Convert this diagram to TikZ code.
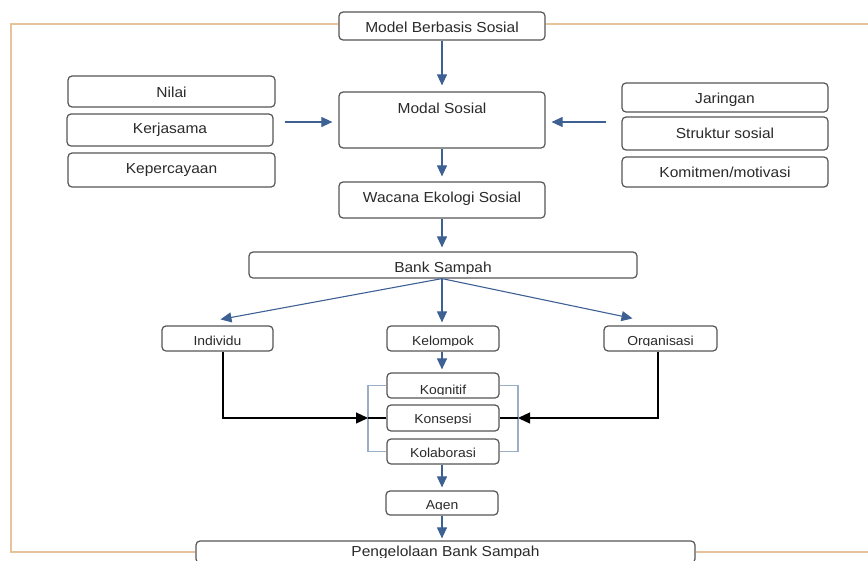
\documentclass[tikz,border=0pt]{standalone}
\usepackage{fontspec}
\setmainfont{Liberation Sans}[FakeStretch=1.07]
\usetikzlibrary{arrows.meta}
\definecolor{boxgray}{HTML}{555555}
\definecolor{arrowblue}{HTML}{3E6194}
\definecolor{bracketblue}{HTML}{9AAEC6}
\definecolor{frameorange}{HTML}{E6C39B}
\definecolor{txtgray}{HTML}{2A2A2A}
\newcommand\mkbox[5]{\node[box, minimum width={(#4-#2)*1pt}, minimum height={(#5-#3)*1pt}] (#1) at ({(#2+#4)/2},{(#3+#5)/2}) {};}
\newcommand\bigtxt[4]{\node[txtnode, font=\fontsize{14.5}{17}\selectfont] (#1) at (#2,#3) {#4};}
\newcommand\smalltxt[4]{\node[txtnode, font=\fontsize{13}{15}\selectfont] (#1) at (#2,#3) {#4};}
\begin{document}
\begin{tikzpicture}[x=1pt,y=-1pt,
  box/.style={draw=boxgray, line width=1.2pt, rounded corners=4pt, inner sep=0pt, fill=white},
  txtnode/.style={anchor=base, inner sep=0pt, text=txtgray},
  barrow/.style={draw=arrowblue, line width=1.1pt, -{Triangle[length=11pt,width=10pt]}},
  karrow/.style={draw=black, line width=1.3pt, -{Triangle[length=12pt,width=11pt]}},
  kline/.style={draw=black, line width=1.3pt},
  bracket/.style={draw=bracketblue, line width=1.2pt},
  frame/.style={draw=frameorange, line width=1.4pt}]
\useasboundingbox (0,0) rectangle (868,560);

% boxes
\mkbox{model}{339}{12}{545}{40}
\mkbox{modal}{339}{92}{545}{148}
\mkbox{wacana}{339}{182}{545}{218}
\mkbox{nilai}{68}{76}{275}{107}
\mkbox{kerja}{67}{114}{273}{146}
\mkbox{keper}{68}{153}{275}{187}
\mkbox{jar}{622}{83}{828}{112}
\mkbox{struk}{622}{117}{828}{150}
\mkbox{komit}{622}{157}{828}{187}
\mkbox{bank}{249}{252}{637}{278}
\mkbox{indiv}{162}{326}{273}{351}
\mkbox{kelom}{387}{326}{499}{351}
\mkbox{organ}{604}{326}{717}{351}
\mkbox{kogn}{387}{373}{499}{398}
\mkbox{kons}{387}{405}{499}{431}
\mkbox{kolab}{387}{439}{499}{464}
\mkbox{agen}{386}{491}{498}{515}
\mkbox{pengel}{196}{541}{695}{563}

% texts
\bigtxt{t-model}{442}{32}{Model Berbasis Sosial}
\bigtxt{t-modal}{442}{113}{Modal Sosial}
\bigtxt{t-wacana}{442}{202}{Wacana Ekologi Sosial}
\bigtxt{t-nilai}{171.5}{97}{Nilai}
\bigtxt{t-kerja}{170}{133}{Kerjasama}
\bigtxt{t-keper}{171.5}{173}{Kepercayaan}
\bigtxt{t-jar}{725}{103}{Jaringan}
\bigtxt{t-struk}{725}{138}{Struktur sosial}
\bigtxt{t-komit}{725}{177}{Komitmen/motivasi}
\begin{scope}\clip (249,252) rectangle (637,273.2);
\bigtxt{t-bank}{443}{272}{Bank Sampah}
\end{scope}
\begin{scope}\clip (162,326) rectangle (273,345.8);
\smalltxt{t-indiv}{217.5}{345}{Individu}
\end{scope}
\begin{scope}\clip (387,326) rectangle (499,345.8);
\smalltxt{t-kelom}{443}{345}{Kelompok}
\end{scope}
\begin{scope}\clip (604,326) rectangle (717,345.8);
\smalltxt{t-organ}{660.5}{345}{Organisasi}
\end{scope}
\begin{scope}\clip (387,373) rectangle (499,394.8);
\smalltxt{t-kogn}{443}{394}{Kognitif}
\end{scope}
\begin{scope}\clip (387,405) rectangle (499,423.8);
\smalltxt{t-kons}{443}{423}{Konsepsi}
\end{scope}
\smalltxt{t-kolab}{443}{457}{Kolaborasi}
\begin{scope}\clip (386,491) rectangle (498,509.8);
\smalltxt{t-agen}{442}{509}{Agen}
\end{scope}
\begin{scope}\clip (196,541) rectangle (695,557.3);
\bigtxt{t-pengel}{445.5}{556.5}{Pengelolaan Bank Sampah}
\end{scope}

% frame
\coordinate (frTR) at (868,24);
\coordinate (frBR) at (868,552);
\draw[frame] ([yshift=2pt]model.west) -| (11,552) -- (pengel.west);
\draw[frame] ([yshift=2pt]model.east) -- (frTR);
\draw[frame] (pengel.east) -- (frBR);

% blue arrows
\draw[barrow, shorten >=6pt] (model.south) -- (modal.north);
\draw[barrow, shorten >=5pt] (modal.south) -- (wacana.north);
\draw[barrow, shorten >=4pt] (wacana.south) -- (wacana.south |- bank.north);
\draw[barrow, shorten <=11pt, shorten >=6pt] ([yshift=-2pt]kerja.east |- modal.west) -- ([yshift=-2pt]modal.west);
\draw[barrow, shorten <=15pt, shorten >=6pt] ([yshift=-2pt]jar.west |- modal.east) -- ([yshift=-2pt]modal.east);
\draw[barrow] ([xshift=-1pt]bank.south) -- ([xshift=3pt,yshift=6pt]indiv.north);
\draw[barrow, shorten >=3pt] ([xshift=-1pt]bank.south) -- ([xshift=-1pt]kelom.north);
\draw[barrow] ([xshift=-1pt]bank.south) -- ([xshift=-28pt,yshift=7pt]organ.north);
\draw[barrow, shorten >=3pt] ([xshift=-1pt]kelom.south) -- ([xshift=-1pt]kogn.north);
\draw[barrow, shorten >=3pt] (agen.north |- kolab.south) -- (agen.north);
\draw[barrow, shorten >=2pt] (agen.south) -- (agen.south |- pengel.north);

% brackets
\coordinate (bL) at (368,418);
\coordinate (bR) at (518,418);
\draw[bracket] (kogn.west) -- (kogn.west -| bL) -- (kolab.west -| bL) -- (kolab.west);
\draw[bracket] (kogn.east) -- (kogn.east -| bR) -- (kolab.east -| bR) -- (kolab.east);

% black arrows
\draw[karrow] ([xshift=5.5pt]indiv.south) |- (bL);
\draw[kline] (bL) -- (kons.west);
\draw[karrow] ([xshift=-2.5pt]organ.south) |- (bR);
\draw[kline] (bR) -- (kons.east);
\end{tikzpicture}
\end{document}
